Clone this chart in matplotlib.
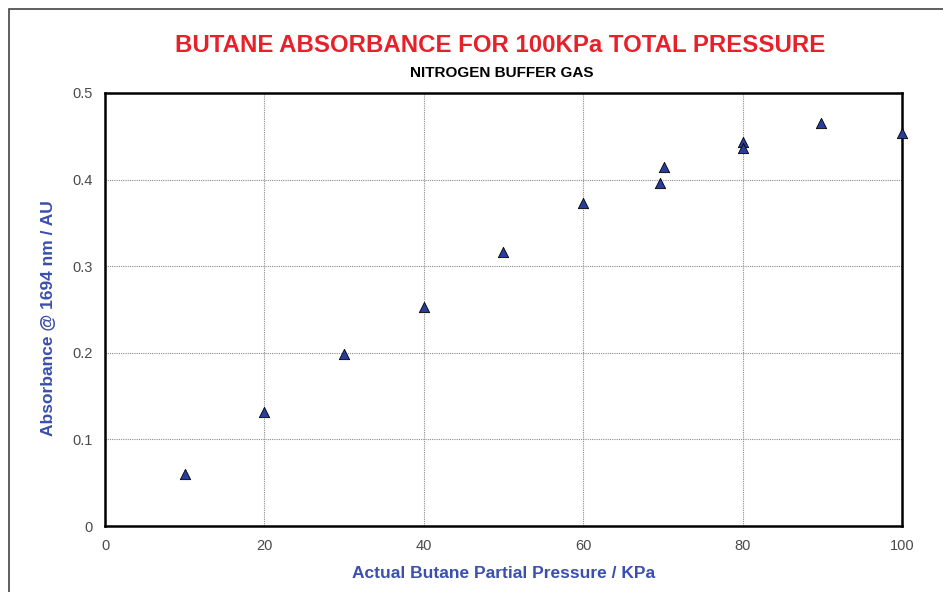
import matplotlib
matplotlib.use("Agg")
import matplotlib.pyplot as plt
from matplotlib.patches import Rectangle

# butane partial pressure (KPa) vs absorbance (AU)
pressure = [10, 20, 30, 40, 50, 60, 69.6, 70.1, 80, 80, 89.8, 100]
absorbance = [0.060, 0.132, 0.199, 0.253, 0.316, 0.373, 0.396, 0.414, 0.443, 0.436, 0.465, 0.454]

xticks = [0, 20, 40, 60, 80, 100]
yticks = [0, 0.1, 0.2, 0.3, 0.4, 0.5]
ytick_labels = ['0', '0.1', '0.2', '0.3', '0.4', '0.5']

plt.rcParams['font.family'] = ['Liberation Sans', 'DejaVu Sans']

fig = plt.figure(figsize=(9.43, 5.92), dpi=100)
ax = fig.add_axes([105/943, 1-526/592, (902-105)/943, (526-93)/592])

# outer frame (runs off the right and bottom edges)
fig.patches.append(Rectangle((9/943, -0.1), 1.2, 1.1 - 9/592, transform=fig.transFigure,
                             fill=False, edgecolor='#444444', linewidth=1.2))

ax.scatter(pressure, absorbance, marker='^', s=55, color='#2a3d9c',
           edgecolor='black', linewidth=0.6, zorder=3, clip_on=False)

ax.set_xlim(0, 100)
ax.set_ylim(0, 0.5)
ax.set_xticks(xticks)
ax.set_yticks(yticks)
ax.set_yticklabels(ytick_labels)
ax.grid(True, color='#8a8a8a', linestyle=(0, (1, 1)), linewidth=0.8)
ax.tick_params(length=0, pad=9, labelsize=10.5, labelcolor='#4a4a4a')
for s in ax.spines.values():
    s.set_linewidth(1.8)
    s.set_color('black')

ax.set_xlabel('Actual Butane Partial Pressure / KPa', color='#3a4fae',
              fontsize=12.5, fontweight='bold', labelpad=10)
ax.set_ylabel('Absorbance @ 1694 nm / AU', color='#3a4fae',
              fontsize=12.5, fontweight='bold', labelpad=12)
ax.yaxis.set_label_coords(-0.062, 0.48)

fig.text(0.530, 1-45/592, 'BUTANE ABSORBANCE FOR 100KPa TOTAL PRESSURE',
         ha='center', va='center', color='#e8202a', fontsize=17.3, fontweight='bold')
fig.text(0.532, 1-73/592, 'NITROGEN BUFFER GAS', ha='center', va='center',
         color='black', fontsize=11, fontweight='bold')

fig.savefig('out.png', dpi=100)
